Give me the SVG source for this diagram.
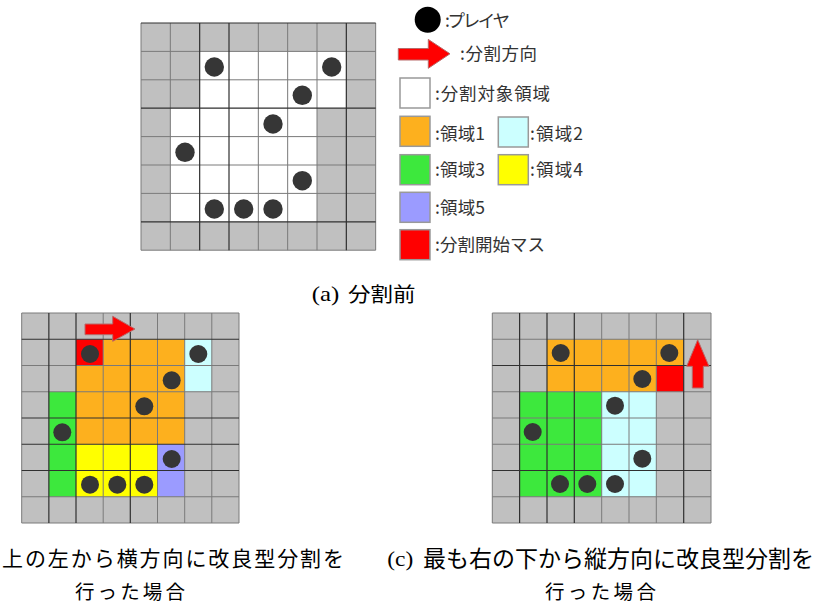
<svg xmlns="http://www.w3.org/2000/svg" width="836" height="606" viewBox="0 0 836 606">
<defs>
<style>
.bg{fill:#ffffff}
.gray{fill:#c0c0c0}
.white{fill:#ffffff}
.orange{fill:#fdb01e}
.cyan{fill:#ccffff}
.green{fill:#3de83d}
.yellow{fill:#ffff00}
.purple{fill:#9b9bff}
.red{fill:#ff0000}
.ln{stroke:#7a7a7a;stroke-width:1;fill:none}
.dk{stroke:#303030;stroke-width:1.2;fill:none}
.pl{fill:#363636}
.arrow{fill:#ff0000;stroke:#b86a6a;stroke-width:1}
.lbox{stroke:#999999;stroke-width:1.5}
.lt{font-family:"Noto Sans CJK JP","Noto Sans",sans-serif;font-size:17.5px;fill:#333333}
.cap{font-family:"Noto Sans CJK JP","Noto Sans",sans-serif;fill:#000000}
.capl{font-family:"Liberation Serif","DejaVu Serif",serif;fill:#000000}
</style>
</defs>
<rect class="bg" x="0" y="0" width="836" height="606"/>

<!-- (a) top grid -->
<g id="grid-a">
<rect class="gray" x="141" y="23" width="234.67" height="227.2"/>
<rect class="white" x="199.67" y="51.4" width="146.66" height="56.8"/>
<rect class="white" x="170.33" y="108.2" width="146.67" height="113.6"/>
<g class="ln">
<path d="M170.33,23V250.2M258.33,23V250.2M287.67,23V250.2M317,23V250.2M141,51.4H375.67M141,79.8H375.67M141,136.6H375.67M141,165H375.67M141,193.4H375.67M141,250.2H375.67M141,23V250.2M375.67,23V250.2"/>
</g>
<g class="dk">
<path d="M199.67,23V250.2M229,23V250.2M346.33,23V250.2M141,23H375.67M141,108.2H375.67M141,221.8H375.67"/>
</g>
<g class="pl">
<circle cx="214.3" cy="67" r="9.7"/>
<circle cx="331.7" cy="67" r="9.7"/>
<circle cx="302.3" cy="95.3" r="9.7"/>
<circle cx="273" cy="124" r="9.7"/>
<circle cx="185" cy="152.3" r="9.7"/>
<circle cx="302.3" cy="180.7" r="9.7"/>
<circle cx="214.3" cy="209" r="9.7"/>
<circle cx="243.7" cy="209" r="9.7"/>
<circle cx="273" cy="209" r="9.7"/>
</g>
</g>

<!-- legend -->
<g id="legend-player">
<circle cx="427.7" cy="19.7" r="13" fill="#000000"/>
<text class="lt" x="445" y="26.5" textLength="65" lengthAdjust="spacing">:プレイヤ</text>
</g>
<g id="legend-direction">
<path class="arrow" d="M398.3,48.5H428.3V39.4L450,53.8L428.3,68.3V60H398.3Z"/>
<text class="lt" x="460" y="60" textLength="77" lengthAdjust="spacing">:分割方向</text>
</g>
<g id="legend-target">
<rect class="white lbox" x="400" y="78" width="30" height="30"/>
<text class="lt" x="435" y="100" textLength="115" lengthAdjust="spacing">:分割対象領域</text>
</g>
<g id="legend-r1">
<rect class="orange lbox" x="400" y="116.3" width="30" height="30"/>
<text class="lt" x="435" y="140" textLength="50" lengthAdjust="spacing">:領域1</text>
</g>
<g id="legend-r2">
<rect class="cyan lbox" x="498.3" y="117" width="30" height="30"/>
<text class="lt" x="530" y="140" textLength="53" lengthAdjust="spacing">:領域2</text>
</g>
<g id="legend-r3">
<rect class="green lbox" x="400" y="154.7" width="30" height="30"/>
<text class="lt" x="435" y="176" textLength="50" lengthAdjust="spacing">:領域3</text>
</g>
<g id="legend-r4">
<rect class="yellow lbox" x="498.3" y="154.7" width="30" height="30"/>
<text class="lt" x="530" y="176" textLength="53" lengthAdjust="spacing">:領域4</text>
</g>
<g id="legend-r5">
<rect class="purple lbox" x="400" y="192.3" width="30" height="30"/>
<text class="lt" x="435" y="213.5" textLength="50" lengthAdjust="spacing">:領域5</text>
</g>
<g id="legend-start">
<rect class="red lbox" x="400" y="229.7" width="30" height="30"/>
<text class="lt" x="435" y="251" textLength="110" lengthAdjust="spacing">:分割開始マス</text>
</g>

<g id="caption-a">
<text class="capl" x="311.7" y="301" font-size="21" textLength="27.6" lengthAdjust="spacingAndGlyphs">(a)</text>
<text class="cap" x="348" y="302" font-size="20" textLength="67.5" lengthAdjust="spacingAndGlyphs">分割前</text>
</g>

<!-- (b) bottom-left grid -->
<g id="grid-b">
<rect class="gray" x="21.7" y="313" width="217.3" height="210"/>
<rect class="red" x="76" y="339.25" width="27.2" height="26.25"/>
<rect class="orange" x="103.2" y="339.25" width="81.5" height="26.25"/>
<rect class="orange" x="76" y="365.5" width="108.7" height="78.75"/>
<rect class="cyan" x="184.7" y="339.25" width="27.1" height="52.5"/>
<rect class="green" x="48.86" y="391.75" width="27.14" height="105"/>
<rect class="yellow" x="76" y="444.25" width="81.5" height="52.5"/>
<rect class="purple" x="157.5" y="444.25" width="27.2" height="52.5"/>
<g class="ln">
<path d="M21.7,313V523M239,313V523M103.2,313V523M157.5,313V523M184.7,313V523M211.8,313V523M21.7,313H239M21.7,523H239M21.7,365.5H239M21.7,391.75H239M21.7,496.75H239"/>
</g>
<g class="dk">
<path d="M48.86,313V523M76,313V523M130.3,313V523M21.7,339.25H239M21.7,418H239M21.7,444.25H239M21.7,470.5H239"/>
</g>
<g class="pl">
<circle cx="90" cy="354" r="9"/>
<circle cx="198.3" cy="354" r="9"/>
<circle cx="171.7" cy="380.3" r="9"/>
<circle cx="144.3" cy="406.3" r="9"/>
<circle cx="62.3" cy="432.3" r="9"/>
<circle cx="171.7" cy="459" r="9"/>
<circle cx="90" cy="484.7" r="9"/>
<circle cx="117.3" cy="484.7" r="9"/>
<circle cx="144.3" cy="484.7" r="9"/>
</g>
<path class="arrow" d="M85,324H112.7V316.3L135,329L112.7,341.3V334.7H85Z"/>
</g>

<g id="caption-b">
<text class="cap" x="2" y="566" font-size="21" textLength="342" lengthAdjust="spacing">上の左から横方向に改良型分割を</text>
<text class="cap" x="75" y="599" font-size="19.5" textLength="110" lengthAdjust="spacing">行った場合</text>
</g>

<!-- (c) bottom-right grid -->
<g id="grid-c">
<rect class="gray" x="492.3" y="313" width="218.7" height="210"/>
<rect class="orange" x="547" y="339.25" width="136.7" height="26.25"/>
<rect class="orange" x="547" y="365.5" width="109.3" height="26.25"/>
<rect class="red" x="656.3" y="365.5" width="27.4" height="26.25"/>
<rect class="green" x="519.6" y="391.75" width="82.1" height="105"/>
<rect class="cyan" x="601.7" y="391.75" width="54.6" height="105"/>
<g class="ln">
<path d="M492.3,313V523M711,313V523M601.7,313V523M629,313V523M656.3,313V523M492.3,313H711M492.3,523H711M492.3,339.25H711M492.3,391.75H711M492.3,418H711M492.3,444.25H711M492.3,496.75H711"/>
</g>
<g class="dk">
<path d="M519.6,313V523M547,313V523M574.3,313V523M683.7,313V523M492.3,365.5H711M492.3,470.5H711"/>
</g>
<g class="pl">
<circle cx="560.7" cy="353" r="9"/>
<circle cx="669.3" cy="353" r="9"/>
<circle cx="642.3" cy="379" r="9"/>
<circle cx="615" cy="405.7" r="9"/>
<circle cx="532.7" cy="432" r="9"/>
<circle cx="642.3" cy="458.7" r="9"/>
<circle cx="560" cy="484" r="9"/>
<circle cx="587.3" cy="484" r="9"/>
<circle cx="615" cy="484" r="9"/>
</g>
<path class="arrow" d="M697.7,339.7L709,366.3H703.3V388H692.3V366.3H686.7Z"/>
</g>

<g id="caption-c">
<text class="capl" x="387.3" y="566" font-size="21" textLength="26" lengthAdjust="spacingAndGlyphs">(c)</text>
<text class="cap" x="423" y="567" font-size="23" textLength="391" lengthAdjust="spacing">最も右の下から縦方向に改良型分割を</text>
<text class="cap" x="545" y="599" font-size="19.5" textLength="111" lengthAdjust="spacing">行った場合</text>
</g>

<g id="connectors"></g>
</svg>
